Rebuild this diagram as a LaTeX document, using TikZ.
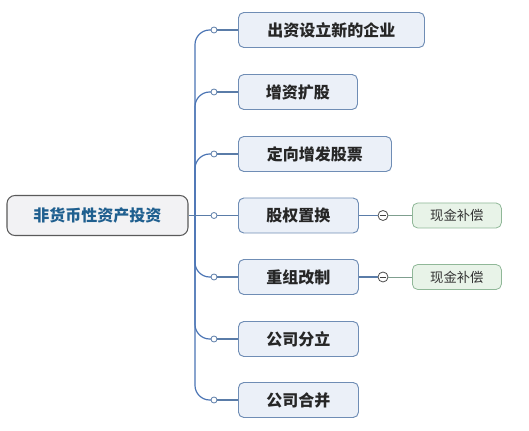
\documentclass[tikz,border=0pt]{standalone}
\usepackage{fontspec}
\newfontfamily\cjk{Noto Sans CJK SC}
\definecolor{trunkc}{HTML}{4A74B4}
\definecolor{linec}{HTML}{5A7CA8}
\definecolor{bfill}{HTML}{EBF0F8}
\definecolor{bdraw}{HTML}{6F8DB5}
\definecolor{rfill}{HTML}{F2F2F4}
\definecolor{rdraw}{HTML}{5A5A5A}
\definecolor{rtext}{HTML}{1F5F8F}
\definecolor{sfill}{HTML}{E8F3E8}
\definecolor{sdraw}{HTML}{90B898}
\definecolor{sline}{HTML}{7F9F8F}
\tikzset{
  rootbox/.style={draw=rdraw, fill=rfill, rounded corners=6pt, line width=0.8pt,
    minimum width=135.75pt, minimum height=30pt, inner sep=0pt,
    font=\cjk\bfseries\fontsize{12}{14}\selectfont, text=rtext},
  branchbox/.style={draw=bdraw, fill=bfill, rounded corners=4pt, line width=0.7pt,
    minimum height=26.25pt, inner sep=0pt, anchor=west,
    font=\cjk\bfseries\fontsize{12}{14}\selectfont, text=black!85},
  subbox/.style={draw=sdraw, fill=sfill, rounded corners=4pt, line width=0.6pt,
    minimum width=66.75pt, minimum height=18.75pt, inner sep=0pt, anchor=west,
    font=\cjk\fontsize{10}{12}\selectfont, text=black!80},
  knob/.style={circle, draw=linec, fill=white, line width=0.6pt, minimum size=4.5pt, inner sep=0pt},
  minusknob/.style={circle, draw=black!70, fill=white, line width=0.6pt, minimum size=7.5pt, inner sep=0pt},
  trunk/.style={draw=trunkc, line width=0.9pt},
  branchline/.style={draw=linec, line width=0.8pt},
  subline/.style={draw=sline, line width=0.7pt}
}
\begin{document}
\begin{tikzpicture}[x=0.75pt,y=-0.75pt]
\useasboundingbox (0,0) rectangle (529,431);
\fill[white] (0,0) rectangle (529,431);

% trunk coordinates
\coordinate (tmid) at (195,215.5);

% connector curves
\coordinate (k1) at (214,30);
\coordinate (k2) at (214,92);
\coordinate (k3) at (214,154);
\coordinate (k4) at (214,215.5);
\coordinate (k5) at (214,277);
\coordinate (k6) at (214,339);
\coordinate (k7) at (214,400);

\draw[trunk, rounded corners=11pt] (k1) -| (tmid) |- (k7);
\draw[trunk, rounded corners=11pt] (k2) -| (tmid);
\draw[trunk, rounded corners=11pt] (k3) -| (tmid);
\draw[trunk, rounded corners=11pt] (k5) -| (tmid);
\draw[trunk, rounded corners=11pt] (k6) -| (tmid);

% nodes
\node[rootbox] (root) at (97.5,215.5) {非货币性资产投资};
\node[branchbox, minimum width=139.5pt] (n1) at (238,30) {出资设立新的企业};
\node[branchbox, minimum width=89.25pt] (n2) at (238,92) {增资扩股};
\node[branchbox, minimum width=114.75pt] (n3) at (238,154) {定向增发股票};
\node[branchbox, minimum width=90pt] (n4) at (238,215.5) {股权置换};
\node[branchbox, minimum width=90pt] (n5) at (238,277) {重组改制};
\node[branchbox, minimum width=90pt] (n6) at (238,339) {公司分立};
\node[branchbox, minimum width=90pt] (n7) at (238,400) {公司合并};

\draw[branchline] (root.east) -- (n4.west);
\foreach \i in {1,2,3,5,6,7} { \draw[branchline] (k\i) -- (n\i.west); }
\foreach \i in {1,...,7} { \node[knob] at (k\i) {}; }

% sub nodes
\node[subbox] (s4) at (412,215.5) {现金补偿};
\node[subbox] (s5) at (412,277) {现金补偿};
\node[minusknob] (m4) at (383,215.5) {};
\node[minusknob] (m5) at (383,277) {};
\draw[branchline] (n4.east) -- (m4.west);
\draw[branchline] (n5.east) -- (m5.west);
\draw[subline] (m4.east) -- (s4.west);
\draw[subline] (m5.east) -- (s5.west);
\foreach \m in {m4,m5} { \draw[black!75, line width=0.7pt] ([xshift=-2pt]\m.center) -- ([xshift=2pt]\m.center); }
\end{tikzpicture}
\end{document}
